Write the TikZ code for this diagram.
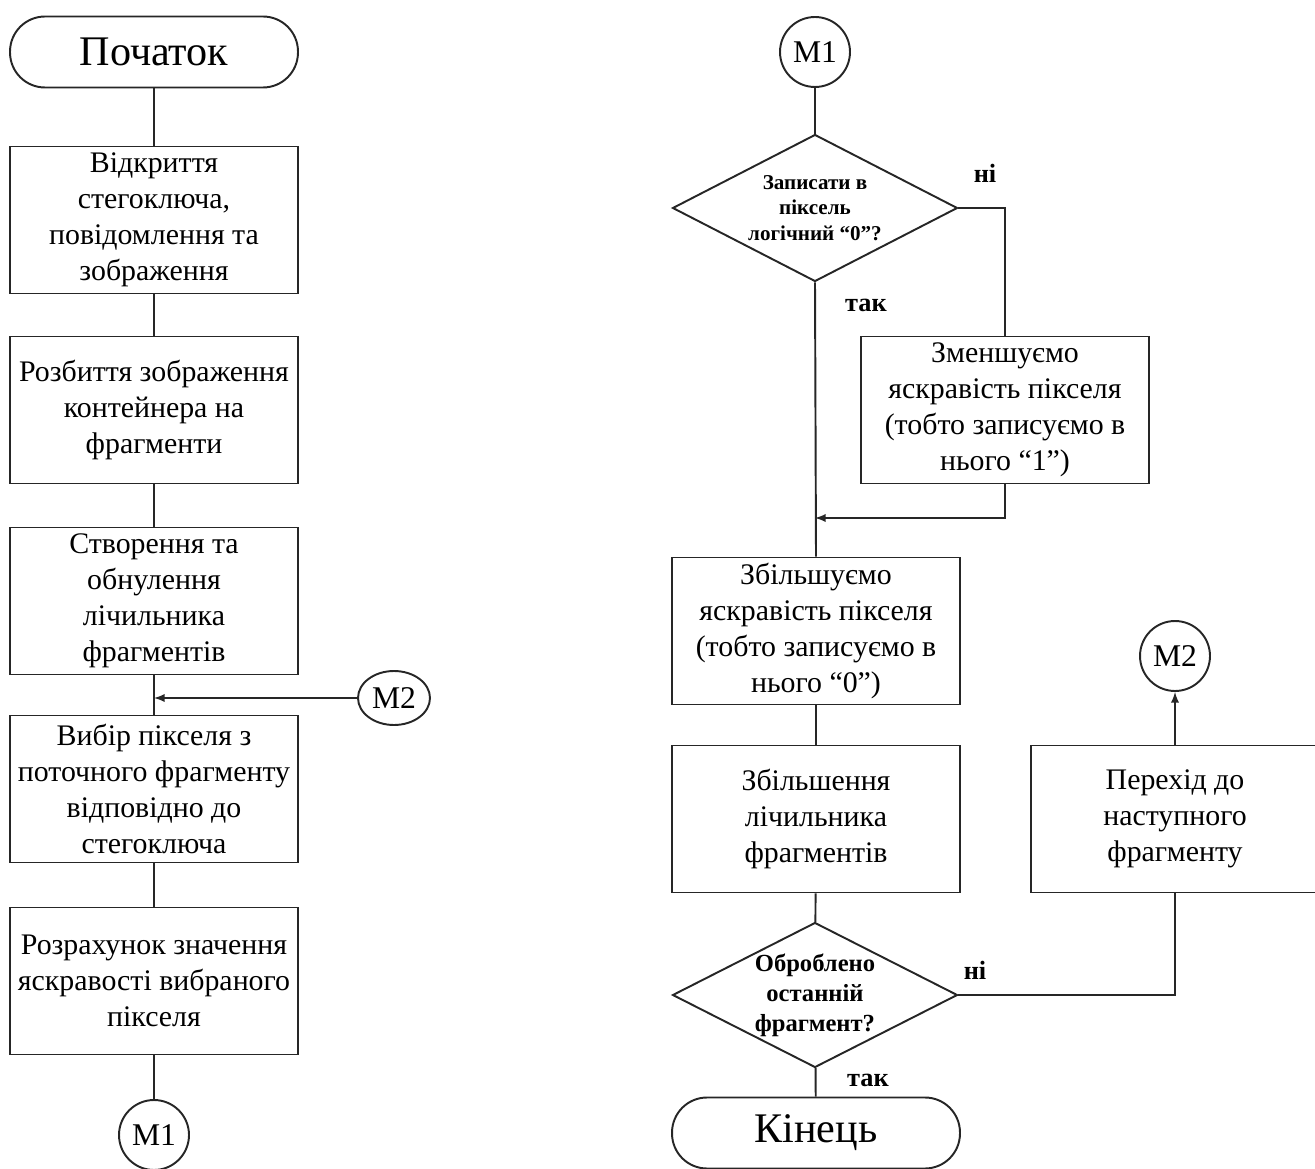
\documentclass[tikz,border=0pt]{standalone}
\usepackage{fontspec}
\setmainfont{Liberation Serif}
\usetikzlibrary{shapes.geometric}

\begin{document}
\begin{tikzpicture}[x=0.02cm, y=-0.02cm,
  line/.style={line width=1.1pt, draw=black!85},
  block/.style={draw=black!85, line width=1.1pt, minimum width=5.76cm, minimum height=2.94cm, align=center, inner sep=1pt, font=\fontsize{17}{20.5}\selectfont},
  term/.style={draw=black!85, line width=1.1pt, rounded corners=0.7cm, minimum width=5.76cm, minimum height=1.42cm, font=\fontsize{24}{28}\selectfont},
  decision/.style={draw=black!85, diamond, aspect=1.94, line width=1.1pt, minimum width=5.7cm, minimum height=2.94cm, inner sep=0pt, align=center},
  conn/.style={draw=black!85, circle, line width=1.1pt, minimum size=1.4cm, inner sep=0pt, font=\fontsize{18}{20}\selectfont},
  lbl/.style={font=\fontsize{15}{18}\selectfont\bfseries}
]
% Fix the page to the size of the picture
\useasboundingbox (0,0) rectangle (1315,1169);

% Left column
\node[term] (start) at (154,52) {Початок};
\node[block] (open) at (154,220) {Відкриття\\стегоключа,\\повідомлення та\\зображення};
\node[block] (split) at (154,410) {Розбиття зображення\\контейнера на\\фрагменти};
\node[block] (reset) at (154,601) {Створення та\\обнулення\\лічильника\\фрагментів};
\node[block] (pick) at (154,789) {Вибір пікселя з\\поточного фрагменту\\відповідно до\\стегоключа};
\node[block] (calc) at (154,981) {Розрахунок значення\\яскравості вибраного\\пікселя};
\node[conn] (m1out) at (154,1135) {M1};
\node[conn, ellipse, minimum width=1.44cm, minimum height=1.08cm] (m2in) at (394,698) {M2};

% Right column
\node[conn] (m1in) at (815,52) {M1};
\node[decision, font=\fontsize{12}{14.5}\selectfont\bfseries] (bitzero) at (815,208) {Записати в\\піксель\\логічний “0”?};
\node[block] (decr) at (1005,410) {Зменшуємо\\яскравість пікселя\\(тобто записуємо в\\нього “1”)};
\node[block] (incr) at (816,631) {Збільшуємо\\яскравість пікселя\\(тобто записуємо в\\нього “0”)};
\node[block] (count) at (816,819) {Збільшення\\лічильника\\фрагментів};
\node[decision, minimum height=2.9cm, font=\fontsize{14}{17}\selectfont\bfseries] (last) at (815,995) {Оброблено\\останній\\фрагмент?};
\node[block] (next) at (1175,819) {Перехід до\\наступного\\фрагменту};
\node[conn] (m2out) at (1175,656) {M2};
\node[term] (finish) at (816,1133) {Кінець};
\coordinate (join) at (815,518);

% Connectors
\draw[line] (start) -- (open);
\draw[line] (open) -- (split);
\draw[line] (split) -- (reset);
\draw[line] (reset) -- (pick);
\draw[line,-latex] (m2in) -- (m2in -| pick);
\draw[line] (pick) -- (calc);
\draw[line] (calc) -- (m1out);

\draw[line] (m1in) -- (bitzero);
\draw[line] (bitzero.east) -| (decr.north);
\draw[line] (bitzero.south) -- (incr.north);
\draw[line,-latex] (decr.south) |- (join);
\draw[line] (incr) -- (count);
\draw[line] (count) -- (last);
\draw[line] (last.east) -| (next.south);
\draw[line,-latex] (next) -- (m2out);
\draw[line] (last) -- (finish);

% Branch labels
\node[lbl] (no1) at (985,173) {ні};
\node[lbl] (yes1) at (866,305) {так};
\node[lbl] (no2) at (975,970) {ні};
\node[lbl] (yes2) at (868,1080) {так};
\end{tikzpicture}
\end{document}
